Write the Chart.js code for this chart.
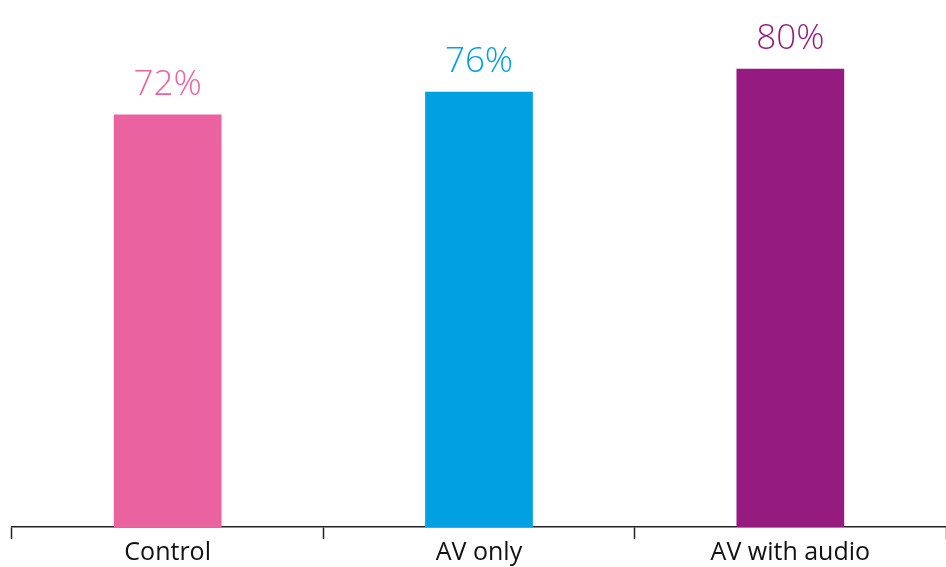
<!DOCTYPE html>
<html>
<head>
<meta charset="utf-8">
<script src="https://cdn.jsdelivr.net/npm/chart.js@4"></script>
<style>
  html, body { margin: 0; padding: 0; background: #fff; }
  #wrap { width: 946px; height: 567px; }
</style>
</head>
<body>
<div id="wrap"><canvas id="chart" width="946" height="567"></canvas></div>
<script>
const categories = ["Control", "AV only", "AV with audio"];
const shares = [72, 76, 80];
const barColours = ["#ea63a0", "#00a0e2", "#951b81"];

// value labels above each bar, same colour as the bar
const valueLabels = {
  id: "valueLabels",
  afterDatasetsDraw(chart) {
    const ctx = chart.ctx;
    const meta = chart.getDatasetMeta(0);
    ctx.save();
    ctx.font = "300 35px 'Open Sans', 'Noto Sans', sans-serif";
    ctx.textAlign = "center";
    ctx.textBaseline = "bottom";
    meta.data.forEach((bar, i) => {
      ctx.fillStyle = barColours[i];
      ctx.fillText(shares[i] + "%", bar.x, bar.y - 12);
    });
    ctx.restore();
  },
};

const chart = new Chart(document.getElementById("chart"), {
  type: "bar",
  data: {
    labels: categories,
    datasets: [
      {
        data: shares,
        backgroundColor: barColours,
        borderWidth: 0,
        barPercentage: 0.346,
        categoryPercentage: 1,
      },
    ],
  },
  options: {
    responsive: false,
    animation: false,
    layout: { padding: { left: 12, right: 0, top: 0, bottom: 0 } },
    plugins: { legend: { display: false }, tooltip: { enabled: false } },
    scales: {
      x: {
        grid: {
          display: true,
          offset: true,
          drawOnChartArea: false,
          drawTicks: true,
          tickLength: 12,
          tickWidth: 1.5,
          color: "#222",
        },
        border: { display: true, color: "#222", width: 1.5 },
        ticks: {
          color: "#111",
          padding: -1,
          font: { family: "'Open Sans', 'Noto Sans', sans-serif", size: 25 },
        },
      },
      y: {
        display: false,
        min: 0,
        max: 92,
      },
    },
  },
  plugins: [valueLabels],
});
</script>
</body>
</html>
